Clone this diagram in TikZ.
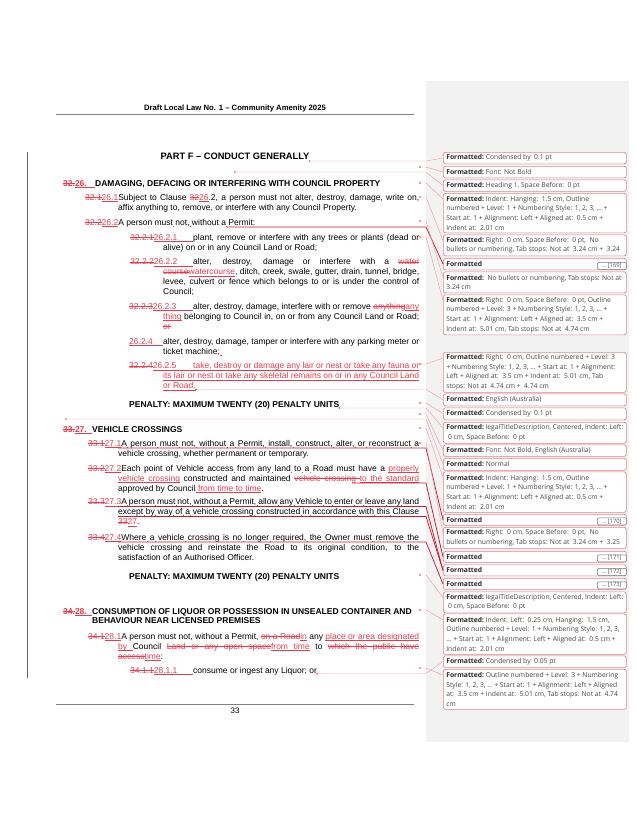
\documentclass[tikz,border=0pt]{standalone}
\usepackage{fontspec}
\setmainfont{Liberation Sans}
\newfontfamily\balfont{Open Sans}
\usetikzlibrary{calc}
\definecolor{rev}{RGB}{228,62,78}
\definecolor{balb}{RGB}{232,132,142}
\definecolor{connc}{RGB}{238,158,166}
\definecolor{connd}{RGB}{196,28,48}
\definecolor{panebg}{RGB}{242,242,242}
\definecolor{balt}{RGB}{70,70,70}
\definecolor{rulec}{RGB}{130,130,130}
\newcommand\bodyf{\fontsize{8.5}{10}\selectfont}
\newcommand\headf{\bfseries\fontsize{8.5}{10}\selectfont}
\newcommand\partf{\bfseries\fontsize{9.3}{11}\selectfont}
\newcommand\hdrf{\bfseries\fontsize{7.7}{9}\selectfont}
\newcommand\ins[1]{{\color{rev}\setbox0\hbox{#1}\rlap{\rule[-1.75pt]{\wd0}{0.45pt}}\box0}}
\newcommand\del[1]{{\color{rev}\setbox0\hbox{#1}\rlap{\rule[2.5pt]{\wd0}{0.45pt}}\box0}}
\newcommand\isp{{\color{rev}\leaders\hrule height -1.3pt depth 1.75pt\hskip\fontdimen2\font plus\fontdimen3\font minus\fontdimen4\font}}
\newcommand\dsp{{\color{rev}\leaders\hrule height 2.95pt depth -2.5pt\hskip\fontdimen2\font plus\fontdimen3\font minus\fontdimen4\font}}
\newcommand\tabfill{{\color{rev}\leaders\hrule height -1.3pt depth 1.75pt\hfill}}
\newcommand\tk{{\color{rev}\rlap{\kern0.4pt\rule[-2.3pt]{0.65pt}{1.7pt}}}}
\newcommand\jbox[2]{\makebox[#1pt][s]{#2}}
\newcommand\insj[2]{{\color{rev}\rlap{\rule[-1.75pt]{#1pt}{0.45pt}}\makebox[#1pt][s]{#2}}}
\newcommand\bln[1]{\hbox to 177pt{#1\hfil}}
\newcommand\fm{\textbf{\color{black!85}Formatted:}}
\newcommand\fmo{\textbf{\color{black!85}Formatted}}
\newcommand\bal[4]{\node[balloon, minimum height=#3pt] (#1) at (443,#2) {\parbox{177pt}{#4}};}
\newcommand\cn[3]{\draw[#1] (#2) -- (#2 -| pane.west) -- ($(#3.north west)+(0,6)$);}
\begin{document}
\begin{tikzpicture}[x=1pt,y=-1pt,
  bl/.style={anchor=base west, inner sep=0pt, font=\bodyf},
  hd/.style={anchor=base west, inner sep=0pt, font=\headf},
  balloon/.style={draw=balb, fill=white, rounded corners=2.2pt, line width=0.7pt,
    minimum width=183pt, inner xsep=3pt, inner ysep=0pt, anchor=north west,
    font=\balfont\fontsize{6.75}{9.6}\selectfont, text=balt},
  btn/.style={draw=black!55, fill=white, rounded corners=1.2pt, line width=0.5pt,
    minimum width=29pt, minimum height=7pt, inner sep=0pt, anchor=south east,
    font=\balfont\fontsize{5.8}{6}\selectfont, text=black!65},
  conn/.style={draw=connc, line width=0.45pt},
  connk/.style={draw=connd, line width=0.75pt},
  dot/.style={fill=rev}]
\useasboundingbox (0,0) rectangle (637,825);
\fill[white] (0,0) rectangle (637,825);
\node[fill=panebg, minimum width=203pt, minimum height=661pt, inner sep=0pt, anchor=north west] (pane) at (426,81) {};
% header
\node[anchor=base, inner sep=0pt, font=\hdrf] (hdr) at (235,110.8) {Draft Local Law No. 1 – Community Amenity 2025};
\draw[rulec, line width=0.5pt] (56,113.8) -- (414,113.8);
% change bar
\draw[black!60, line width=0.7pt] (27,152) -- (27,678);
% body
\node[anchor=base, inner sep=0pt, font=\partf] (l1) at (235,159.5) {PART F – CONDUCT GENERALLY};
\node[hd] (l3) at (63,186) {\hbox to 32pt{\del{32.}\ins{26.}\tabfill}DAMAGING, DEFACING OR INTERFERING WITH COUNCIL PROPERTY};
\node[bl] (l4) at (85,200) {\jbox{334}{\del{32.1}\ins{26.1}Subject to Clause \del{32}\ins{26}.2, a person must not alter, destroy, damage, write on,}};
\node[bl] (l5) at (118,210) {affix anything to, remove, or interfere with any Council Property.};
\node[bl] (l6) at (85,225) {\del{32.2}\ins{26.2}A person must\tk{} not,\tk{} without a\tk{} Permit:};
\node[bl] (l7) at (130,240) {\hbox to 63pt{\del{32.2.1}\ins{26.2.1}\tabfill}\jbox{226}{plant, remove or interfere with any trees or plants (dead or}};
\node[bl] (l8) at (163,250) {alive) on or in any Council Land or Road;};
\node[bl] (l9) at (130,264.5) {\hbox to 63pt{\del{32.2.2}\ins{26.2.2}\tabfill}\jbox{226}{alter, destroy, damage or interfere with a \del{water}}};
\node[bl] (l10) at (163,274.5) {\jbox{256}{\del{course}\ins{watercourse}, ditch, creek, swale, gutter, drain, tunnel, bridge,}};
\node[bl] (l11) at (163,284.5) {\jbox{256}{levee, culvert or fence which belongs to or is under the control of}};
\node[bl] (l12) at (163,294.5) {Council;};
\node[bl] (l13) at (129,309) {\hbox to 64pt{\del{32.2.3}\ins{26.2.3}\tabfill}\jbox{226}{alter, destroy, damage, interfere with or remove \del{anything}\ins{any}}};
\node[bl] (l14) at (163,319) {\jbox{256}{\ins{thing} belonging to Council in, on or from any Council Land or Road;}};
\node[bl] (l15) at (163,329) {\del{or}};
\node[bl] (l16) at (129,344) {\hbox to 34pt{\ins{26.2.4}\tabfill}\jbox{256}{alter, destroy, damage, tamper or interfere with any parking meter or}};
\node[bl] (l17) at (163,354) {ticket machine;\ins{\kern2.5pt}};
\node[bl] (l18) at (129,368.5) {\hbox to 64pt{\del{32.2.4}\ins{26.2.5}\tabfill}\insj{226}{take, destroy or damage any lair or nest or take any fauna or}};
\node[bl] (l19) at (163,378.5) {\insj{256}{its lair or nest or take any skeletal remains on or in any Council Land}};
\node[bl] (l20) at (163,388.5) {\ins{or Road.}};
\node[hd] (l21) at (129,407.5) {PENALTY: MAXIMUM TWENTY (20) PENALTY UNITS};
\node[hd] (l23) at (63,432) {\hbox to 29pt{\del{33.}\ins{27.}\tabfill}VEHICLE CROSSINGS};
\node[bl] (l24) at (88,446) {\jbox{331}{\del{33.1}\ins{27.1}A\tk{} person\tk{} must\tk{} not,\tk{} without\tk{} a\tk{} Permit,\tk{} install,\tk{} construct,\tk{} alter,\tk{} or\tk{} reconstruct\tk{} a}};
\node[bl] (l25) at (118,456) {vehicle crossing, whether permanent or temporary.};
\node[bl] (l26) at (88,471) {\jbox{331}{\del{33.2}\ins{27.2}Each point of Vehicle access\tk{} from any\tk{} land\tk{} to\tk{} a\tk{} Road must have a \ins{properly}}};
\node[bl] (l27) at (118,481) {\jbox{301}{\ins{vehicle}\isp\ins{crossing} constructed and maintained \del{vehicle}\dsp\del{crossing}\dsp\ins{to}\isp\ins{the}\isp\ins{standard}}};
\node[bl] (l28) at (118,491) {approved by Council\isp\ins{from}\isp\ins{time}\isp\ins{to}\isp\ins{time}.};
\node[bl] (l29) at (88,504.5) {\jbox{331}{\del{33.3}\ins{27.3}A\tk{} person\tk{} must\tk{} not,\tk{} without\tk{} a\tk{} Permit,\tk{} allow\tk{} any\tk{} Vehicle\tk{} to\tk{} enter\tk{} or\tk{} leave\tk{} any\tk{} land}};
\node[bl] (l30) at (118,514.5) {\jbox{301}{except\tk{} by\tk{} way\tk{} of\tk{} a\tk{} vehicle\tk{} crossing\tk{} constructed\tk{} in\tk{} accordance\tk{} with\tk{} this\tk{} Clause}};
\node[bl] (l31) at (118,524.5) {\del{33}\ins{27}.};
\node[bl] (l32) at (88,540) {\jbox{331}{\del{33.4}\ins{27.4}Where\tk{} a\tk{} vehicle\tk{} crossing is no\tk{} longer\tk{} required,\tk{} the\tk{} Owner must\tk{} remove\tk{} the}};
\node[bl] (l33) at (118,550) {\jbox{301}{vehicle crossing and reinstate the Road to its original condition, to the}};
\node[bl] (l34) at (118,560) {satisfaction of an Authorised Officer.};
\node[hd] (l35) at (129,579) {PENALTY: MAXIMUM TWENTY (20) PENALTY UNITS};
\node[hd] (l36) at (63,614) {\hbox to 29pt{\del{34.}\ins{28.}\tabfill}CONSUMPTION OF LIQUOR OR POSSESSION IN UNSEALED CONTAINER AND};
\node[hd] (l37) at (92,623.5) {BEHAVIOUR NEAR LICENSED PREMISES};
\node[bl] (l38) at (88,639) {\jbox{331}{\del{34.1}\ins{28.1}A person must not, without a Permit, \del{on}\dsp\del{a}\dsp\del{Road}\ins{in} any \ins{place}\isp\ins{or}\isp\ins{area}\isp\ins{designated}}};
\node[bl] (l39) at (118,649) {\jbox{301}{\ins{by}\isp Council \del{Land}\dsp\del{or}\dsp\del{any}\dsp\del{open}\dsp\del{space}\ins{from}\isp\ins{time} to \del{which}\dsp\del{the}\dsp\del{public}\dsp\del{have}}};
\node[bl] (l40) at (118,659) {\del{access}\ins{time}:};
\node[bl] (l41) at (130,673) {\hbox to 63pt{\del{34.1.1}\ins{28.1.1}\tabfill}consume or ingest any Liquor; or};
% footer
\draw[rulec, line width=0.5pt] (56,704) -- (414,704);
\node[anchor=base, inner sep=0pt, font=\fontsize{8}{9}\selectfont] (pg) at (235,713) {33};
% balloons
\bal{b1}{152}{11.5}{\bln{\fm\ Condensed by\ \ 0.1 pt}}
\bal{b2}{166}{11.5}{\bln{\fm\ Font: Not Bold}}
\bal{b3}{179.5}{11.5}{\bln{\fm\ Heading 1, Space Before:\ \ 0 pt}}
\bal{b4}{193}{39.5}{\bln{\fm\ Indent: Hanging:\ \ 1.5 cm, Outline}\bln{numbered + Level: 1 + Numbering Style: 1, 2, 3, … +}\bln{Start at: 1 + Alignment: Left + Aligned at:\ \ 0.5 cm +}\bln{Indent at:\ \ 2.01 cm}}
\bal{b5}{234.5}{21}{\bln{\fm\ Right:\ \ 0 cm, Space Before:\ \ 0 pt,\ \ No}\bln{bullets or numbering, Tab stops: Not at\ \ 3.24 cm +\ \ 3.24}}
\bal{b6}{258}{11.5}{\bln{\fmo}}
\bal{b7}{271.5}{21}{\bln{\fm\ \ No bullets or numbering, Tab stops: Not at}\bln{3.24 cm}}
\bal{b8}{294.5}{40}{\bln{\fm\ Right:\ \ 0 cm, Space Before:\ \ 0 pt, Outline}\bln{numbered + Level: 3 + Numbering Style: 1, 2, 3, … +}\bln{Start at: 1 + Alignment: Left + Aligned at:\ \ 3.5 cm +}\bln{Indent at:\ \ 5.01 cm, Tab stops: Not at\ \ 4.74 cm}}
\bal{b9}{352}{40}{\bln{\fm\ Right:\ \ 0 cm, Outline numbered + Level: 3}\bln{+ Numbering Style: 1, 2, 3, … + Start at: 1 + Alignment:}\bln{Left + Aligned at:\ \ 3.5 cm + Indent at:\ \ 5.01 cm, Tab}\bln{stops: Not at\ \ 4.74 cm +\ \ 4.74 cm}}
\bal{b10}{393.5}{12}{\bln{\fm\ English (Australia)}}
\bal{b11}{407.5}{12}{\bln{\fm\ Condensed by\ \ 0.1 pt}}
\bal{b12}{422}{21}{\bln{\fm\ legalTitleDescription, Centered, Indent: Left:}\bln{\ 0 cm, Space Before:\ \ 0 pt}}
\bal{b13}{444.5}{11.5}{\bln{\fm\ Font: Not Bold, English (Australia)}}
\bal{b14}{458}{12}{\bln{\fm\ Normal}}
\bal{b15}{471.5}{40.5}{\bln{\fm\ Indent: Hanging:\ \ 1.5 cm, Outline}\bln{numbered + Level: 1 + Numbering Style: 1, 2, 3, … +}\bln{Start at: 1 + Alignment: Left + Aligned at:\ \ 0.5 cm +}\bln{Indent at:\ \ 2.01 cm}}
\bal{b16}{514}{11}{\bln{\fmo}}
\bal{b17}{527}{21}{\bln{\fm\ Right:\ \ 0 cm, Space Before:\ \ 0 pt,\ \ No}\bln{bullets or numbering, Tab stops: Not at\ \ 3.24 cm +\ \ 3.25}}
\bal{b18}{551}{11}{\bln{\fmo}}
\bal{b19}{564.5}{11}{\bln{\fmo}}
\bal{b20}{578}{11}{\bln{\fmo}}
\bal{b21}{591.5}{21}{\bln{\fm\ legalTitleDescription, Centered, Indent: Left:}\bln{\ 0 cm, Space Before:\ \ 0 pt}}
\bal{b22}{613.5}{40.5}{\bln{\fm\ Indent: Left:\ \ 0.25 cm, Hanging:\ \ 1.5 cm,}\bln{Outline numbered + Level: 1 + Numbering Style: 1, 2, 3,}\bln{… + Start at: 1 + Alignment: Left + Aligned at:\ \ 0.5 cm +}\bln{Indent at:\ \ 2.01 cm}}
\bal{b23}{655.5}{11.5}{\bln{\fm\ Condensed by\ \ 0.05 pt}}
\bal{b24}{669}{40}{\bln{\fm\ Outline numbered + Level: 3 + Numbering}\bln{Style: 1, 2, 3, … + Start at: 1 + Alignment: Left + Aligned}\bln{at:\ \ 3.5 cm + Indent at:\ \ 5.01 cm, Tab stops: Not at\ \ 4.74}\bln{cm}}
\node[btn] (k169) at ([yshift=0.6pt]b6.south east) {…\,[169]};
\node[btn] (k170) at ([yshift=0.6pt]b16.south east) {…\,[170]};
\node[btn] (k171) at ([yshift=0.6pt]b18.south east) {…\,[171]};
\node[btn] (k172) at ([yshift=0.6pt]b19.south east) {…\,[172]};
\node[btn] (k173) at ([yshift=0.6pt]b20.south east) {…\,[173]};
% anchors
\coordinate (a1) at ([yshift=-1.5pt]l1.base east);
\coordinate (a2) at (420,167);
\coordinate (a3) at (235,172);
\coordinate (a4) at (420,183);
\coordinate (a5) at (420,197);
\coordinate (a6) at (227,227);
\coordinate (a7) at (420,221);
\coordinate (a8) at (420,237);
\coordinate (a9) at (420,364);
\coordinate (a10) at ([yshift=-1pt]l20.base east);
\coordinate (a11) at (420,403);
\coordinate (a12) at ([yshift=-0.5pt]l21.base east);
\coordinate (a13) at (420,414);
\coordinate (a14) at (66,419);
\coordinate (a15) at (420,428);
\coordinate (a16) at (118,448);
\coordinate (a17) at (420,443);
\coordinate (a18) at (352,483);
\coordinate (a19) at (118,506.5);
\coordinate (a19b) at (118,516.5);
\coordinate (a20) at (118,542);
\coordinate (a21) at (420,575);
\coordinate (a22) at (420,610);
\coordinate (a23) at ([yshift=-0.5pt]l41.base east);
\coordinate (a24) at (420,668);
% connectors
\cn{conn}{a1}{b1}
\cn{conn}{a2}{b2}
\cn{conn}{a3}{b3}
\cn{conn}{a4}{b4}
\cn{conn}{a5}{b5}
\cn{connk}{a6}{b6}
\cn{conn}{a7}{b7}
\cn{conn}{a8}{b8}
\cn{conn}{a9}{b9}
\cn{conn}{a10}{b10}
\cn{conn}{a11}{b11}
\cn{conn}{a12}{b12}
\cn{conn}{a13}{b13}
\cn{conn}{a14}{b14}
\cn{conn}{a15}{b15}
\cn{connk}{a16}{b16}
\cn{conn}{a17}{b17}
\cn{connk}{a18}{b18}
\cn{connk}{a19}{b19}
\cn{connk}{a19b}{b19}
\cn{connk}{a20}{b20}
\cn{conn}{a21}{b21}
\cn{conn}{a22}{b22}
\cn{conn}{a23}{b23}
\cn{conn}{a24}{b24}
\foreach \p in {a1,a2,a3,a4,a5,a7,a8,a9,a10,a11,a12,a13,a14,a15,a17,a21,a22,a23,a24}
  \fill[dot] (\p) circle (0.8pt);
\end{tikzpicture}
\end{document}
